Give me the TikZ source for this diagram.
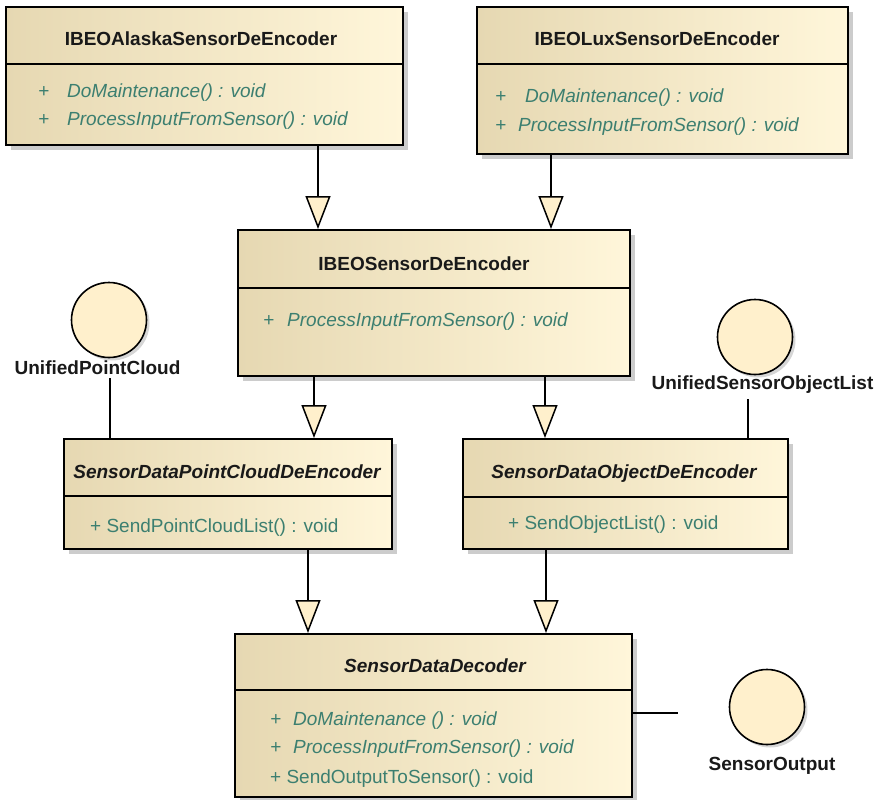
\documentclass[tikz,border=0pt]{standalone}
\usepackage{fontspec}
\setmainfont{Liberation Sans}
\usetikzlibrary{arrows.meta,shadows}
\definecolor{beigeL}{HTML}{E6D8B2}
\definecolor{beigeR}{HTML}{FFF6DA}
\definecolor{cream}{HTML}{FFF0CC}
\definecolor{mtxt}{HTML}{3C7F70}
\tikzset{
  umlbox/.style={draw=black, line width=1.8pt, left color=beigeL, right color=beigeR,
    anchor=north west, inner sep=0pt,
    drop shadow={shadow xshift=5pt, shadow yshift=-5pt, fill=black, opacity=0.2}},
  iface/.style={circle, draw=black, line width=1.6pt, fill=cream, minimum size=75pt, inner sep=0pt,
    drop shadow={shadow xshift=3pt, shadow yshift=-3pt, fill=black, opacity=0.16}},
  divider/.style={line width=1.5pt},
  hdr/.style={anchor=base, font=\fontsize{19}{22}\selectfont\bfseries, text=black!90, inner sep=0pt},
  hdri/.style={hdr, font=\fontsize{19}{22}\selectfont\bfseries\itshape},
  meth/.style={anchor=base west, font=\fontsize{19}{22}\selectfont\itshape, text=mtxt, inner sep=0pt},
  methn/.style={anchor=base west, font=\fontsize{19}{22}\selectfont, text=mtxt, inner sep=0pt},
  lbl/.style={anchor=base, font=\fontsize{19}{22}\selectfont\bfseries, text=black!90, inner sep=0pt},
  gen/.style={line width=1.5pt, -{Triangle[length=33pt,width=25pt,fill=cream]}},
  plain/.style={line width=1.5pt},
}
\begin{document}
\begin{tikzpicture}[x=1pt,y=-1pt]
\useasboundingbox (0,0) rectangle (878,800);

% boxes
\node[umlbox, minimum width=397pt, minimum height=138pt] (alaska) at (5,6) {};
\node[umlbox, minimum width=371pt, minimum height=147pt] (lux) at (476,6) {};
\node[umlbox, minimum width=392pt, minimum height=146pt] (ibeo) at (237,229) {};
\node[umlbox, minimum width=328pt, minimum height=110pt] (pcl) at (63,438) {};
\node[umlbox, minimum width=325pt, minimum height=110pt] (obj) at (462,438) {};
\node[umlbox, minimum width=397pt, minimum height=163pt] (dec) at (234,633) {};

% dividers
\draw[divider] ([yshift=-58pt]alaska.north west) -- ([yshift=-58pt]alaska.north east);
\draw[divider] ([yshift=-58pt]lux.north west) -- ([yshift=-58pt]lux.north east);
\draw[divider] ([yshift=-59pt]ibeo.north west) -- ([yshift=-59pt]ibeo.north east);
\draw[divider] ([yshift=-58pt]pcl.north west) -- ([yshift=-58pt]pcl.north east);
\draw[divider] ([yshift=-59pt]obj.north west) -- ([yshift=-59pt]obj.north east);
\draw[divider] ([yshift=-57pt]dec.north west) -- ([yshift=-57pt]dec.north east);

% texts
\node[hdr] (t1) at (201,46) {IBEOAlaskaSensorDeEncoder};
\node[meth] (t1a) at (38,97) {+};
\node[meth] (t1b) at (67,97) {DoMaintenance() : void};
\node[meth] (t1c) at (38,125) {+};
\node[meth] (t1d) at (67,125) {ProcessInputFromSensor() : void};

\node[hdr] (t2) at (657,46) {IBEOLuxSensorDeEncoder};
\node[meth] (t2a) at (495,102) {+};
\node[meth] (t2b) at (525,102) {DoMaintenance() : void};
\node[meth] (t2c) at (495,131) {+};
\node[meth] (t2d) at (518,131) {ProcessInputFromSensor() : void};

\node[hdr] (t3) at (424,270) {IBEOSensorDeEncoder};
\node[meth] (t3a) at (263,326) {+};
\node[meth] (t3b) at (287,326) {ProcessInputFromSensor() : void};

\node[hdri] (t4) at (227,478) {SensorDataPointCloudDeEncoder};
\node[methn] (t4a) at (90,532) {+ SendPointCloudList() : void};

\node[hdri] (t5) at (624,478) {SensorDataObjectDeEncoder};
\node[methn] (t5a) at (508,529) {+ SendObjectList() : void};

\node[hdri] (t6) at (435,672) {SensorDataDecoder};
\node[meth] (t6a) at (270,725) {+};
\node[meth] (t6b) at (293,725) {DoMaintenance () : void};
\node[meth] (t6c) at (270,753) {+};
\node[meth] (t6d) at (293,753) {ProcessInputFromSensor() : void};
\node[methn] (t6e) at (270,783) {+ SendOutputToSensor() : void};

% interfaces
\node[iface] (upc) at (109,320) {};
\node[lbl] (upcl) at (97.5,374) {UnifiedPointCloud};
\node[iface] (usol) at (755,337) {};
\node[lbl] (usoll) at (762.5,389) {UnifiedSensorObjectList};
\node[iface] (so) at (767,707) {};
\node[lbl] (sol) at (772,770) {SensorOutput};

% column coordinates
\coordinate (c1) at (318,0);
\coordinate (c2) at (551,0);
\coordinate (c3) at (314,0);
\coordinate (c4) at (545,0);
\coordinate (c5) at (308,0);
\coordinate (c6) at (546,0);
\coordinate (c7) at (110,0);
\coordinate (c8) at (748,0);
\coordinate (r1) at (0,713);
\coordinate (decend) at (678,713);

% generalizations
\draw[gen] (alaska.south -| c1) -- (ibeo.north -| c1);
\draw[gen] (lux.south -| c2) -- (ibeo.north -| c2);
\draw[gen] (ibeo.south -| c3) -- (pcl.north -| c3);
\draw[gen] (ibeo.south -| c4) -- (obj.north -| c4);
\draw[gen] (pcl.south -| c5) -- (dec.north -| c5);
\draw[gen] (obj.south -| c6) -- (dec.north -| c6);

% interface links
\draw[plain] ([yshift=-4pt]upcl.south -| c7) -- (pcl.north -| c7);
\draw[plain] ([yshift=-6pt]usoll.south -| c8) -- (obj.north -| c8);
\draw[plain] (dec.east |- r1) -- (decend);
\end{tikzpicture}
\end{document}
